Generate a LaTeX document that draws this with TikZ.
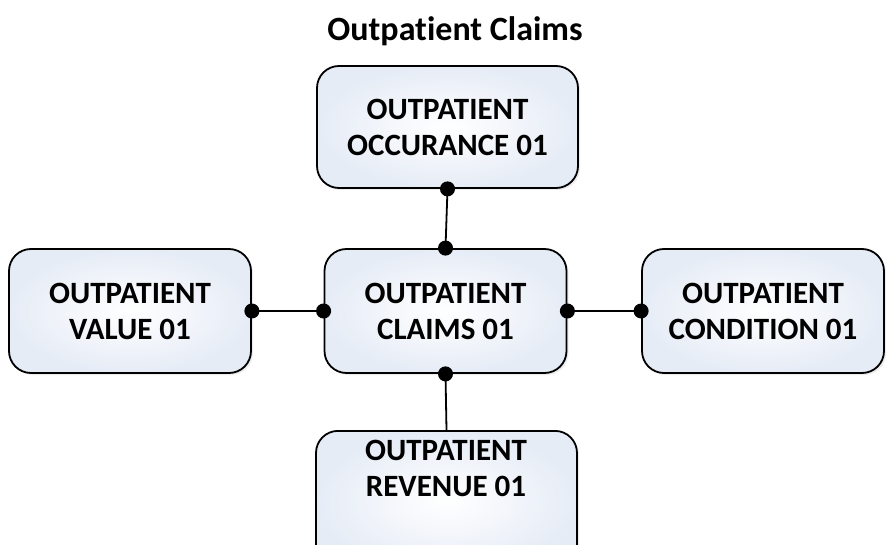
\documentclass[tikz,border=0pt]{standalone}
\usepackage{fontspec}
\setmainfont{Carlito}[Ligatures=NoCommon]
\usetikzlibrary{arrows.meta,shadows}
\definecolor{boxblue}{RGB}{230,236,246}
\begin{document}
\begin{tikzpicture}[x=1pt,y=-1pt]

	\tikzset{entity/.style={draw, line width=1.8pt, rounded corners=22pt,
			inner color=white, outer color=boxblue,
			drop shadow={opacity=0.15, shadow xshift=2pt, shadow yshift=-2pt},
			minimum width=242pt, minimum height=124pt, align=center,
			font=\fontsize{31}{36}\selectfont\bfseries}}
	\tikzset{entitytext/.style={align=center, font=\fontsize{31}{36}\selectfont\bfseries}}
	\tikzset{link/.style={line width=1.8pt}}
	\tikzset{dots/.style={{Circle[length=15pt]}-{Circle[length=15pt]}, shorten <=-7.5pt, shorten >=-7.5pt}}

	\clip (0,0) rectangle (889,545);
	\fill[white] (0,0) rectangle (889,545);

	\node[font=\fontsize{34}{40}\selectfont\bfseries] (title) at (455,31) {Outpatient Claims};

	\node[entity, minimum width=261pt, minimum height=122pt] (occurance) at (447.5,127) {OUTPATIENT\\OCCURANCE 01};
	\node[entity] (value) at (130,311) {OUTPATIENT\\VALUE 01};
	\node[entity] (claims) at (445.5,311) {OUTPATIENT\\CLAIMS 01};
	\node[entity] (condition) at (763,311) {OUTPATIENT\\CONDITION 01};
	\node[entity, minimum width=261pt, minimum height=140pt, anchor=north] (revenue) at (446.5,430) {};
	\node[entitytext] (revenuetext) at (446,468) {OUTPATIENT\\REVENUE 01};

	\draw[link, dots] (occurance.south) -- (claims.north);
	\draw[link, dots] (value.east) -- (claims.west);
	\draw[link, dots] (claims.east) -- (condition.west);
	\draw[link, {Circle[length=15pt]}-, shorten <=-7.5pt] (claims.south) -- (revenue.north);

\end{tikzpicture}
\end{document}
